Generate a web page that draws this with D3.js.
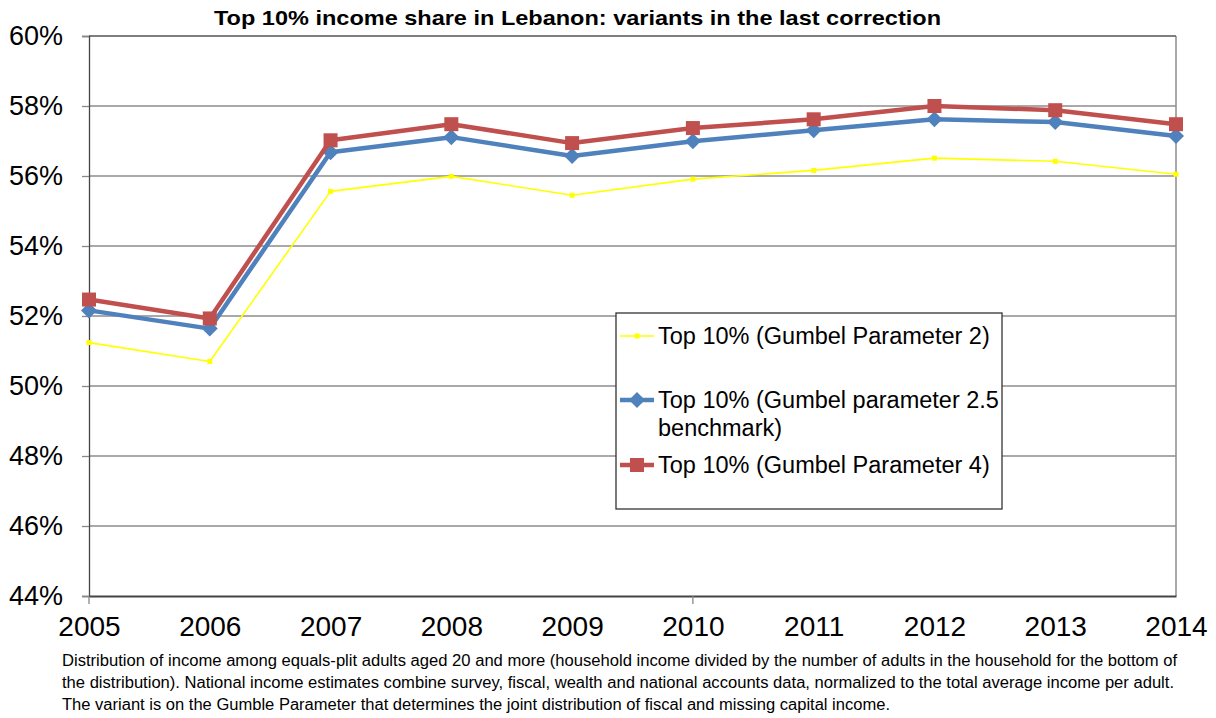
<!DOCTYPE html>
<html>
<head>
<meta charset="utf-8">
<script src="https://cdn.jsdelivr.net/npm/d3@7"></script>
<style>
  body { margin: 0; background: #fff; }
  svg { display: block; font-family: "Liberation Sans", Arial, sans-serif; }
</style>
</head>
<body>
<div id="chart"></div>
<script>
var years = [2005, 2006, 2007, 2008, 2009, 2010, 2011, 2012, 2013, 2014];
var gumbel2 = [51.24, 50.70, 55.56, 55.99, 55.45, 55.91, 56.16, 56.51, 56.42, 56.05];
var gumbel25 = [52.16, 51.64, 56.68, 57.11, 56.57, 56.99, 57.31, 57.62, 57.54, 57.14];
var gumbel4 = [52.47, 51.93, 57.02, 57.48, 56.94, 57.37, 57.62, 58.00, 57.88, 57.48];
var yTicks = [44, 46, 48, 50, 52, 54, 56, 58, 60];
var seriesNames = ["Top 10% (Gumbel Parameter 2)", "Top 10% (Gumbel parameter 2.5 benchmark)", "Top 10% (Gumbel Parameter 4)"];
var title = "Top 10% income share in Lebanon: variants in the last correction";
var noteLines = [
  "Distribution of income among equals-plit adults aged 20 and more (household income divided by the number of adults in the household for the bottom of",
  "the distribution). National income estimates combine survey, fiscal, wealth and national accounts data, normalized to the total average income per adult.",
  "The variant is on the Gumble Parameter that determines the joint distribution of fiscal and missing capital income."
];
var noteWidths = [1115, 1112, 828];

var W = 1216, H = 718;
var plotL = 89, plotR = 1176, plotT = 36, plotB = 596;

var svg = d3.select("#chart").append("svg")
  .attr("width", W)
  .attr("height", H);

var x = d3.scalePoint().domain(years).range([plotL, plotR]);
var y = d3.scaleLinear().domain([44, 60]).range([plotB, plotT]);

// gridlines
svg.append("g").selectAll("line")
  .data(yTicks.filter(function(d){ return d > 44 && d < 60; }))
  .enter().append("line")
  .attr("x1", plotL).attr("x2", plotR)
  .attr("y1", function(d){ return y(d); })
  .attr("y2", function(d){ return y(d); })
  .attr("stroke", "#8c8c8c")
  .attr("stroke-width", 1.5);

// plot border
svg.append("line")
  .attr("x1", plotR).attr("x2", plotR).attr("y1", plotT).attr("y2", plotB)
  .attr("stroke", "#8c8c8c").attr("stroke-width", 1.5);
svg.append("line")
  .attr("x1", plotL).attr("x2", plotR).attr("y1", plotT).attr("y2", plotT)
  .attr("stroke", "#555").attr("stroke-width", 1.5);

// y axis
var yAxis = svg.append("g")
  .attr("transform", "translate(" + plotL + ",0)")
  .call(d3.axisLeft(y).tickValues(yTicks).tickSize(7).tickPadding(19)
    .tickFormat(function(d){ return d + "%"; }));
yAxis.select(".domain").attr("stroke", "#444").attr("stroke-width", 1.3);
yAxis.selectAll(".tick line").attr("stroke", "#888").attr("stroke-width", 1.3);
yAxis.selectAll("text").attr("font-size", 27).attr("fill", "#000")
  .attr("font-family", "Liberation Sans, Arial, sans-serif");

// x axis
var xAxis = svg.append("g")
  .attr("transform", "translate(0," + plotB + ")")
  .call(d3.axisBottom(x).tickSize(0).tickPadding(20));
xAxis.select(".domain").attr("stroke", "#444").attr("stroke-width", 2);
xAxis.selectAll("text").attr("font-size", 28).attr("fill", "#000")
  .attr("font-family", "Liberation Sans, Arial, sans-serif");
svg.append("g").selectAll("line")
  .data([2005, 2010])
  .enter().append("line")
  .attr("x1", function(d){ return x(d); }).attr("x2", function(d){ return x(d); })
  .attr("y1", plotB).attr("y2", plotB + 8)
  .attr("stroke", "#888").attr("stroke-width", 1.3);

// series
var series = [
  {name: seriesNames[0], values: gumbel2, color: "#FFFF00", width: 1.6, marker: "smallsquare"},
  {name: seriesNames[1], values: gumbel25, color: "#4F81BD", width: 4.5, marker: "diamond"},
  {name: seriesNames[2], values: gumbel4, color: "#C0504D", width: 4.5, marker: "square"}
];

var line = d3.line()
  .x(function(d, i){ return x(years[i]); })
  .y(function(d){ return y(d); });

function drawMarker(g, type, color) {
  if (type === "square") {
    g.append("rect").attr("x", -7).attr("y", -7).attr("width", 14).attr("height", 14).attr("fill", color);
  } else if (type === "diamond") {
    g.append("path").attr("d", "M0,-8L8,0L0,8L-8,0Z").attr("fill", color);
  } else {
    g.append("rect").attr("x", -2.5).attr("y", -2.5).attr("width", 5).attr("height", 5).attr("fill", color);
  }
}

series.forEach(function(s){
  svg.append("path")
    .datum(s.values)
    .attr("d", line)
    .attr("fill", "none")
    .attr("stroke", s.color)
    .attr("stroke-width", s.width)
    .attr("stroke-linejoin", "round");
  svg.append("g").selectAll("g")
    .data(s.values)
    .enter().append("g")
    .attr("transform", function(d, i){ return "translate(" + x(years[i]) + "," + y(d) + ")"; })
    .each(function(){ drawMarker(d3.select(this), s.marker, s.color); });
});

// legend
var lg = svg.append("g");
lg.append("rect")
  .attr("x", 616).attr("y", 313).attr("width", 386).attr("height", 196)
  .attr("fill", "#fff").attr("stroke", "#333").attr("stroke-width", 1.3);

var legendRows = [
  {s: series[0], y: 336, lines: ["Top 10% (Gumbel Parameter 2)"]},
  {s: series[1], y: 400, lines: ["Top 10% (Gumbel parameter 2.5", "benchmark)"]},
  {s: series[2], y: 465, lines: ["Top 10% (Gumbel Parameter 4)"]}
];
legendRows.forEach(function(r){
  lg.append("line")
    .attr("x1", 620).attr("x2", 654).attr("y1", r.y).attr("y2", r.y)
    .attr("stroke", r.s.color).attr("stroke-width", r.s.width);
  var m = lg.append("g").attr("transform", "translate(637," + r.y + ")");
  drawMarker(m, r.s.marker, r.s.color);
  r.lines.forEach(function(t, j){
    lg.append("text")
      .attr("x", 658).attr("y", r.y + 8 + j * 28)
      .attr("font-size", 23.5)
      .attr("fill", "#000")
      .text(t);
  });
});

// title
svg.append("text")
  .attr("x", 214).attr("y", 25)
  .attr("font-size", 21)
  .attr("font-weight", "bold")
  .attr("textLength", 727)
  .attr("lengthAdjust", "spacingAndGlyphs")
  .text(title);

// note
svg.append("g").selectAll("text")
  .data(noteLines)
  .enter().append("text")
  .attr("x", 62)
  .attr("y", function(d, i){ return 666 + i * 22; })
  .attr("font-size", 16)
  .attr("fill", "#000")
  .attr("textLength", function(d, i){ return noteWidths[i]; })
  .attr("lengthAdjust", "spacingAndGlyphs")
  .text(function(d){ return d; });
</script>
</body>
</html>
